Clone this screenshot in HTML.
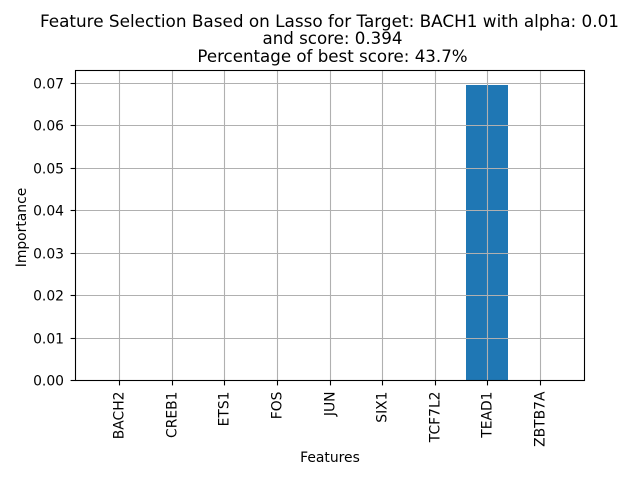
<!DOCTYPE html>
<html>
<head>
<meta charset="utf-8">
<title>Feature Selection Based on Lasso</title>
<style>
html,body{margin:0;padding:0;background:#fff;}
svg{display:block;}
text{font-family:"DejaVu Sans","Liberation Sans",sans-serif;fill:#000;}
</style>
</head>
<body>
<svg id="chart" xmlns="http://www.w3.org/2000/svg" width="640" height="480" viewBox="0 0 640 480">
<rect x="0" y="0" width="640" height="480" fill="#ffffff"/>
<text x="329.5" y="27" font-size="16.67" text-anchor="middle" textLength="579" lengthAdjust="spacingAndGlyphs">Feature Selection Based on Lasso for Target: BACH1 with alpha: 0.01</text>
<text x="332.5" y="44" font-size="16.67" text-anchor="middle">and score: 0.394</text>
<text x="332.5" y="62" font-size="16.67" text-anchor="middle">Percentage of best score: 43.7%</text>
<text x="26" y="227.5" font-size="13.89" text-anchor="middle" transform="rotate(-90 26 227.5)">Importance</text>
<text x="330" y="462" font-size="13.89" text-anchor="middle">Features</text>
</svg>
<script>
const categories = ["BACH2","CREB1","ETS1","FOS","JUN","SIX1","TCF7L2","TEAD1","ZBTB7A"];
const importanceValues = [0,0,0,0,0,0,0,0.0696,0];
const yTickLabels = ["0.00","0.01","0.02","0.03","0.04","0.05","0.06","0.07"];

const svg = document.getElementById('chart');
const NS = 'http://www.w3.org/2000/svg';
const plot = {left:75.5, right:584.5, top:70.5, bottom:380.5};
const barWidth = 0.8;
const xMin = -barWidth/2 - 0.05*(categories.length - 1 + barWidth);
const xMax = categories.length - 1 + barWidth/2 + 0.05*(categories.length - 1 + barWidth);
const yMaxValue = Math.max(...importanceValues, 0);
const yMax = yMaxValue*1.05;

function xScale(v){
  return plot.left + (v - xMin)/(xMax - xMin)*(plot.right - plot.left);
}
function yScale(v){
  return plot.bottom - v/yMax*(plot.bottom - plot.top);
}
function snap(v){
  return Math.round(v - 0.5) + 0.5;
}
function make(tag, attrs){
  const el = document.createElementNS(NS, tag);
  for (const k in attrs) el.setAttribute(k, attrs[k]);
  svg.appendChild(el);
  return el;
}

importanceValues.forEach(function(v, i){
  const left = Math.floor(xScale(i - barWidth/2));
  const right = Math.floor(xScale(i + barWidth/2));
  const top = Math.round(yScale(v));
  const bar = make('rect', {x:left, y:top, width:right-left, height:Math.max(0, plot.bottom-top), fill:'#1f77b4'});
  
  
});

yTickLabels.forEach(function(label){
  const y = snap(yScale(parseFloat(label)));
  const grid = make('line', {x1:plot.left, x2:plot.right, y1:y, y2:y, stroke:'#b0b0b0', 'stroke-width':1.1});
  
  
  const tick = make('line', {x1:plot.left-4.9, x2:plot.left, y1:y, y2:y, stroke:'#000', 'stroke-width':1.1});
  
  
  const text = make('text', {x:64, y:y+5, 'font-size':13.89, 'text-anchor':'end'});
  text.textContent = label;
  
  
});

categories.forEach(function(name, i){
  const x = snap(xScale(i));
  const grid = make('line', {x1:x, x2:x, y1:plot.top, y2:plot.bottom, stroke:'#b0b0b0', 'stroke-width':1.1});
  
  
  const tick = make('line', {x1:x, x2:x, y1:plot.bottom, y2:plot.bottom+4.9, stroke:'#000', 'stroke-width':1.1});
  
  
  const ty = 391.5;
  const text = make('text', {x:x+4, y:ty, 'font-size':13.89, 'text-anchor':'end', transform:'rotate(-90 '+(x+4)+' '+ty+')'});
  text.textContent = name;
  
  
});

const frame = make('rect', {x:plot.left, y:plot.top, width:plot.right-plot.left, height:plot.bottom-plot.top, fill:'none', stroke:'#000', 'stroke-width':1.1});


</script>
</body>
</html>
